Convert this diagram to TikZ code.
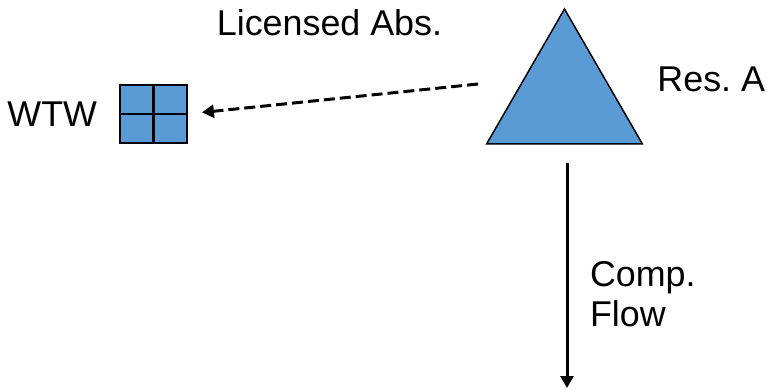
\documentclass[tikz,border=0pt]{standalone}
\usepackage{fontspec}
\setmainfont{Liberation Sans}
\usetikzlibrary{positioning}
\usetikzlibrary{shapes.geometric}
\usetikzlibrary{arrows.meta}
\definecolor{resblue}{HTML}{5B9BD5}
\frenchspacing

\begin{document}
\begin{tikzpicture}[
        x = 0.02cm, y = -0.02cm,
        txt/.style = {
            font = \fontsize{20.4}{22.8}\selectfont,
            inner sep = 0pt,
            outer sep = 0pt
        },
        works/.style = {
            draw,
            fill = resblue,
            line width = 1.4pt,
            minimum width = 1.34cm,
            minimum height = 1.16cm,
            inner sep = 0pt,
            outer sep = 0pt
        },
        reservoir/.style = {
            draw,
            fill = resblue,
            regular polygon,
            regular polygon sides = 3,
            minimum size = 3.6cm,
            line width = 0.85pt,
            inner sep = 0pt,
            outer sep = 0pt
        },
        flow/.style = {
            -{Triangle[length=0.24cm, width=0.26cm]},
            line width = 1.7pt
        }
        ]
        \useasboundingbox (0,0) rectangle (767,389);
%
        \node[reservoir] (resA) at (564.5,99) {};
        \node[txt, anchor=base east] (resAlabel) at (765,91) {Res. A};
%
        \node[works] (wtw) at (153.5,114) {};
        \draw[line width = 1.4pt] (wtw.north) -- (wtw.south);
        \draw[line width = 1.4pt] (wtw.west) -- (wtw.east);
        \node[txt, left=0.46cm of wtw] (wtwlabel) {WTW};
%
        \coordinate (absStart) at (478,84);
        \coordinate (flowEnd) at (567,388);
%
        \draw[flow, dash pattern=on 0.22cm off 0.1cm, shorten >=0.3cm] (absStart) -- (wtw.east);
        \node[txt, anchor=base] (abslabel) at (329.5,35) {Licensed Abs.};
%
        \draw[flow, shorten <=0.38cm] (resA.south -| flowEnd) -- (flowEnd);
        \node[txt, anchor=north west, align=left] (flowlabel) at (590,261) {Comp.\\Flow};
%
    \end{tikzpicture}
\end{document}
